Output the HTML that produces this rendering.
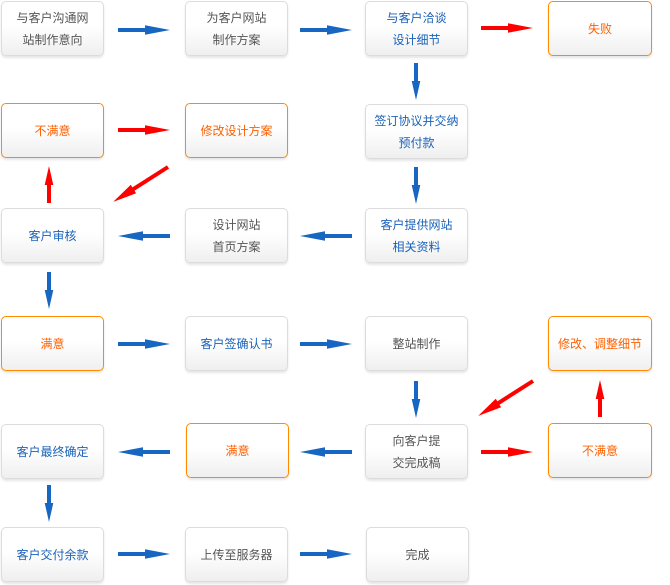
<!DOCTYPE html>
<html>
<head>
<meta charset="utf-8">
<style>
html,body{margin:0;padding:0;background:#fff;}
body{width:670px;height:585px;position:relative;overflow:hidden;font-family:"Liberation Sans","Noto Sans CJK SC",sans-serif;}
.b{position:absolute;width:101px;height:53px;border:1px solid #dcdcdc;border-radius:5px;
background:linear-gradient(to bottom,#ffffff 0%,#ffffff 45%,#efefef 100%);
box-shadow:0 2px 2px rgba(0,0,0,0.10);
display:flex;align-items:center;justify-content:center;text-align:center;
font-size:12px;line-height:22px;color:#555;box-sizing:content-box;}
.b span{display:block;padding-top:1px;}
.o{border-color:#ff8a00;color:#ff6000;}
.u{color:#1a62b8;}
.g{color:#555;}
svg{position:absolute;left:0;top:0;}
</style>
</head>
<body>
<!-- row 1 -->
<div class="b g" style="left:1px;top:1px;"><span>与客户沟通网<br>站制作意向</span></div>
<div class="b g" style="left:185px;top:1px;"><span>为客户网站<br>制作方案</span></div>
<div class="b u" style="left:365px;top:1px;"><span>与客户洽谈<br>设计细节</span></div>
<div class="b o" style="left:548px;top:1px;width:102px;"><span>失败</span></div>
<!-- row 2 -->
<div class="b o" style="left:1px;top:103px;"><span>不满意</span></div>
<div class="b o" style="left:185px;top:103px;"><span>修改设计方案</span></div>
<div class="b u" style="left:365px;top:104px;"><span>签订协议并交纳<br>预付款</span></div>
<!-- row 3 -->
<div class="b u" style="left:1px;top:208px;"><span>客户审核</span></div>
<div class="b g" style="left:185px;top:208px;"><span>设计网站<br>首页方案</span></div>
<div class="b u" style="left:365px;top:208px;"><span>客户提供网站<br>相关资料</span></div>
<!-- row 4 -->
<div class="b o" style="left:1px;top:316px;"><span>满意</span></div>
<div class="b u" style="left:185px;top:316px;"><span>客户签确认书</span></div>
<div class="b g" style="left:365px;top:316px;"><span>整站制作</span></div>
<div class="b o" style="left:548px;top:316px;width:102px;"><span>修改、调整细节</span></div>
<!-- row 5 -->
<div class="b u" style="left:1px;top:424px;"><span>客户最终确定</span></div>
<div class="b o" style="left:186px;top:423px;"><span>满意</span></div>
<div class="b g" style="left:365px;top:424px;"><span>向客户提<br>交完成稿</span></div>
<div class="b o" style="left:548px;top:423px;width:102px;"><span>不满意</span></div>
<!-- row 6 -->
<div class="b u" style="left:1px;top:527px;"><span>客户交付余款</span></div>
<div class="b g" style="left:185px;top:527px;"><span>上传至服务器</span></div>
<div class="b g" style="left:366px;top:527px;"><span>完成</span></div>

<svg width="670" height="585" viewBox="0 0 670 585">
<defs>
  <!-- horizontal arrow length 52 pointing right -->
  <g id="ah">
    <rect x="0" y="-2" width="29" height="4"/>
    <polygon points="27,-4.8 52,0 27,4.8"/>
  </g>
  <!-- vertical arrow length 37 pointing right (rotated) -->
  <g id="av">
    <rect x="0" y="-2" width="20" height="4"/>
    <polygon points="18,-4.3 37,0 18,4.3"/>
  </g>
  <!-- diagonal arrow length 65 -->
  <g id="ad">
    <rect x="0" y="-2" width="44" height="4"/>
    <polygon points="41,-5 65,0 41,5"/>
  </g>
</defs>
<g fill="#1766c2">
  <use href="#ah" transform="translate(118,30)"/>
  <use href="#ah" transform="translate(300,30)"/>
  <use href="#av" transform="translate(416,63) rotate(90)"/>
  <use href="#av" transform="translate(416,167) rotate(90)"/>
  <use href="#ah" transform="translate(170,236) rotate(180)"/>
  <use href="#ah" transform="translate(352,236) rotate(180)"/>
  <use href="#av" transform="translate(49,272) rotate(90)"/>
  <use href="#ah" transform="translate(118,344)"/>
  <use href="#ah" transform="translate(300,344)"/>
  <use href="#av" transform="translate(416,381) rotate(90)"/>
  <use href="#ah" transform="translate(170,452) rotate(180)"/>
  <use href="#ah" transform="translate(352,452) rotate(180)"/>
  <use href="#av" transform="translate(49,485) rotate(90)"/>
  <use href="#ah" transform="translate(118,554)"/>
  <use href="#ah" transform="translate(300,554)"/>
</g>
<g fill="#ff0000">
  <use href="#ah" transform="translate(481,28)"/>
  <use href="#ah" transform="translate(118,130)"/>
  <use href="#av" transform="translate(49,203) rotate(-90)"/>
  <use href="#ad" transform="translate(168,167) rotate(147.5)"/>
  <use href="#ad" transform="translate(533,381) rotate(147.5)"/>
  <use href="#av" transform="translate(600,417) rotate(-90)"/>
  <use href="#ah" transform="translate(481,452)"/>
</g>
</svg>
</body>
</html>
